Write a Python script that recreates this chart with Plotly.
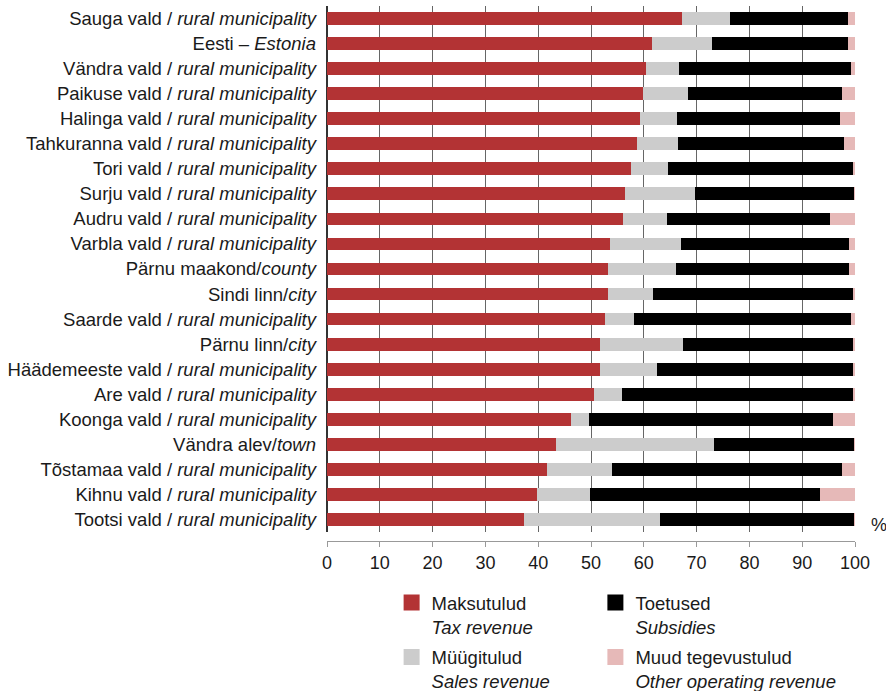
import plotly.graph_objects as go

categories = [
    "Sauga vald", "Eesti", "Vändra vald", "Paikuse vald", "Halinga vald",
    "Tahkuranna vald", "Tori vald", "Surju vald", "Audru vald", "Varbla vald",
    "Pärnu maakond", "Sindi linn", "Saarde vald", "Pärnu linn",
    "Häädemeeste vald", "Are vald", "Koonga vald", "Vändra alev",
    "Tõstamaa vald", "Kihnu vald", "Tootsi vald",
]
RM = " / <i>rural municipality</i>"
tick_labels = [
    "Sauga vald" + RM, "Eesti – <i>Estonia</i>", "Vändra vald" + RM,
    "Paikuse vald" + RM, "Halinga vald" + RM, "Tahkuranna vald" + RM,
    "Tori vald" + RM, "Surju vald" + RM, "Audru vald" + RM, "Varbla vald" + RM,
    "Pärnu maakond/<i>county</i>", "Sindi linn/<i>city</i>", "Saarde vald" + RM,
    "Pärnu linn/<i>city</i>", "Häädemeeste vald" + RM, "Are vald" + RM,
    "Koonga vald" + RM, "Vändra alev/<i>town</i>", "Tõstamaa vald" + RM,
    "Kihnu vald" + RM, "Tootsi vald" + RM,
]

tax = [67.3, 61.6, 60.4, 59.8, 59.3, 58.8, 57.6, 56.4, 56.0, 53.6, 53.2,
       53.2, 52.6, 51.7, 51.7, 50.5, 46.2, 43.3, 41.6, 39.7, 37.4]
sales = [9.0, 11.3, 6.2, 8.5, 7.0, 7.6, 6.9, 13.3, 8.4, 13.5, 12.9,
         8.5, 5.5, 15.7, 10.8, 5.4, 3.4, 30.0, 12.4, 10.1, 25.7]
subsidies = [22.4, 25.8, 32.7, 29.3, 30.9, 31.6, 35.2, 30.2, 30.9, 31.8, 32.8,
             38.0, 41.2, 32.3, 37.2, 43.8, 46.3, 26.6, 43.6, 43.6, 36.8]
other = [1.3, 1.3, 0.7, 2.4, 2.8, 2.0, 0.3, 0.1, 4.7, 1.1, 1.1,
         0.3, 0.7, 0.3, 0.3, 0.3, 4.1, 0.1, 2.4, 6.6, 0.1]

series = [
    ("Maksutulud<br><i>Tax revenue</i>", tax, "#B33334", "legend"),
    ("Müügitulud<br><i>Sales revenue</i>", sales, "#CCCCCC", "legend3"),
    ("Toetused<br><i>Subsidies</i>", subsidies, "#000000", "legend2"),
    ("Muud tegevustulud<br><i>Other operating revenue</i>", other, "#E6B9B8", "legend4"),
]

FONT = "Liberation Sans, Arial, sans-serif"
fig = go.Figure()
for name, vals, color, lg in series:
    fig.add_trace(go.Bar(
        y=categories, x=vals, orientation="h", name=name,
        marker=dict(color=color, line=dict(width=0)),
        showlegend=False,
    ))
# legend proxies with larger square swatches
for name, vals, color, lg in series:
    fig.add_trace(go.Scatter(
        x=[None], y=[None], mode="markers", name=name,
        marker=dict(symbol="square", size=18, color=color),
        showlegend=True, legend=lg,
    ))

legend_common = dict(
    orientation="v", xref="container", yref="container",
    xanchor="left", yanchor="top", valign="top",
    font=dict(family=FONT, size=18.5, color="#1a1a1a"),
    itemsizing="trace", bgcolor="rgba(0,0,0,0)",
)
COL1, COL2 = 0.442, 0.672
ROW1, ROW2 = 0.155, 0.076

fig.update_layout(
    width=886, height=691,
    barmode="stack", bargap=0.49,
    plot_bgcolor="white", paper_bgcolor="white",
    margin=dict(l=327, r=31, t=6, b=150, autoexpand=False),
    font=dict(family=FONT, size=18, color="#1a1a1a"),
    showlegend=True,
    legend=dict(x=COL1, y=ROW1, **legend_common),
    legend2=dict(x=COL2, y=ROW1, **legend_common),
    legend3=dict(x=COL1, y=ROW2, **legend_common),
    legend4=dict(x=COL2, y=ROW2, **legend_common),
    xaxis=dict(
        range=[0, 100], tickvals=list(range(0, 101, 10)),
        showgrid=True, gridcolor="#666666", gridwidth=1,
        zeroline=True, zerolinecolor="#333333", zerolinewidth=1.5,
        showline=True, linecolor="#999999", linewidth=1,
        ticks="outside", ticklen=5, tickcolor="#999999",
        anchor="free", position=0, automargin=False,
        tickfont=dict(size=18, family=FONT, color="#1a1a1a"),
        fixedrange=True,
    ),
    yaxis=dict(
        domain=[0.0168, 1], automargin=False,
        categoryorder="array", categoryarray=categories,
        autorange="reversed",
        tickvals=categories, ticktext=tick_labels,
        showgrid=False, ticks="", ticklabelstandoff=10,
        tickfont=dict(size=18.5, family=FONT, color="#1a1a1a"),
        fixedrange=True,
    ),
    annotations=[dict(
        text="%", xref="paper", yref="paper", x=1, y=0.0168,
        xanchor="left", yanchor="middle", xshift=14, yshift=7,
        showarrow=False, font=dict(size=18, family=FONT, color="#1a1a1a"),
    )],
)

fig.write_html("out.html", config={"displayModeBar": False},
               post_script="document.body.style.margin='0';")
